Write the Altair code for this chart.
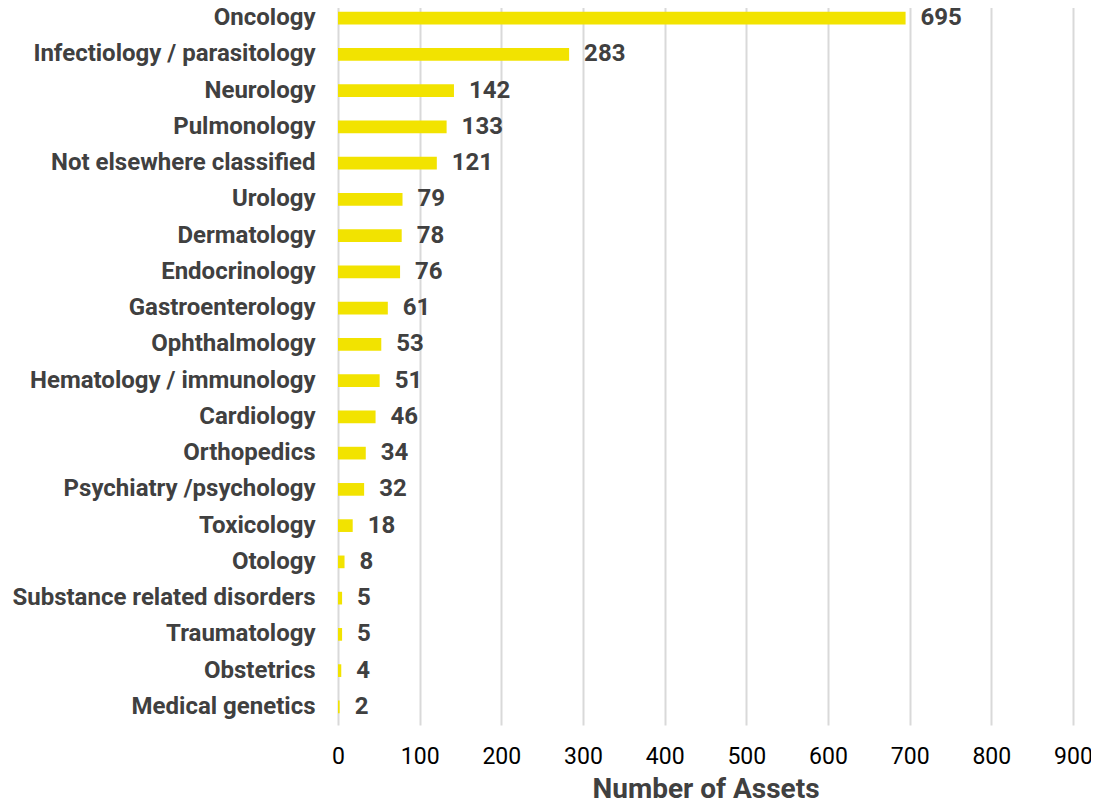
import altair as alt
import pandas as pd

categories = ["Oncology", "Infectiology / parasitology", "Neurology", "Pulmonology",
              "Not elsewhere classified", "Urology", "Dermatology", "Endocrinology",
              "Gastroenterology", "Ophthalmology", "Hematology / immunology", "Cardiology",
              "Orthopedics", "Psychiatry /psychology", "Toxicology", "Otology",
              "Substance related disorders", "Traumatology", "Obstetrics", "Medical genetics"]
values = [695, 283, 142, 133, 121, 79, 78, 76, 61, 53, 51, 46, 34, 32, 18, 8, 5, 5, 4, 2]

df = pd.DataFrame({"area": categories, "assets": values})

y = alt.Y("area:N", sort=categories, title=None,
          scale=alt.Scale(paddingInner=0.65, paddingOuter=0.325),
          axis=alt.Axis(labelFont="Roboto", labelFontWeight="bold", labelFontSize=24,
                        labelColor="#404040", ticks=False, domain=False, labelPadding=23,
                        grid=False, labelLimit=400))
x = alt.X("assets:Q", title="Number of Assets",
          scale=alt.Scale(domain=[0, 900], nice=False),
          axis=alt.Axis(values=list(range(0, 1000, 100)), labelFont="Roboto",
                        labelFontSize=23, labelColor="#000000", ticks=False, domain=False,
                        labelFlush=False,
                        gridColor="#d9d9d9", gridWidth=2, labelPadding=20,
                        titleFont="Roboto", titleFontSize=28, titleFontWeight="bold",
                        titleColor="#404040", titlePadding=7))

bars = alt.Chart(df).mark_bar(color="#F2E300").encode(x=x, y=y)
text = alt.Chart(df).mark_text(align="left", dx=15, font="Roboto", fontWeight="bold",
                               fontSize=24, color="#404040").encode(
    x="assets:Q", y=alt.Y("area:N", sort=categories), text="assets:Q")

chart = (bars + text).properties(
    width=735, height=725,
    autosize=alt.AutoSizeParams(type="none"),
    padding={"left": 330, "top": -8, "right": 18, "bottom": 76},
).configure_view(stroke=None)

chart.save("out.html", embed_options={"renderer": "svg", "actions": False})
